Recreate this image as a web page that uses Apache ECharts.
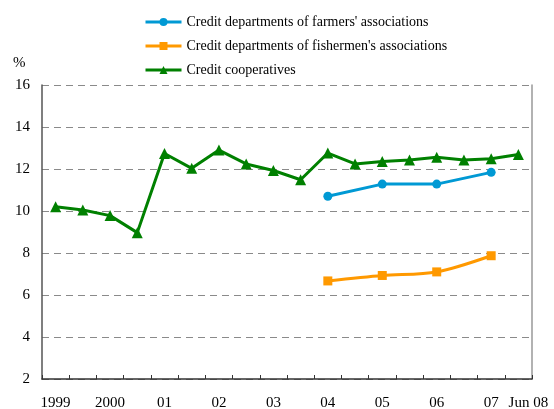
<!DOCTYPE html>
<html>
<head>
<meta charset="utf-8">
<script src="https://cdn.jsdelivr.net/npm/echarts@6/dist/echarts.min.js"></script>
<style>
  html, body { margin: 0; padding: 0; background: #fff; }
  #chart { width: 554px; height: 409px; }
</style>
</head>
<body>
<div id="chart"></div>
<script>
// Half-yearly observation dates (end of year and June)
const periods = ['Dec 1999', 'Jun 2000', 'Dec 2000', 'Jun 2001', 'Dec 2001', 'Jun 2002',
  'Dec 2002', 'Jun 2003', 'Dec 2003', 'Jun 2004', 'Dec 2004', 'Jun 2005', 'Dec 2005',
  'Jun 2006', 'Dec 2006', 'Jun 2007', 'Dec 2007', 'Jun 2008'];
// Labels shown under the axis (one per period, blank where none)
const tickLabels = ['1999', '', '2000', '', '01', '', '02', '', '03', '', '04', '', '05', '', '06', '', '07', 'Jun 08'];
const yTicks = [2, 4, 6, 8, 10, 12, 14, 16];

// Ratios, %
const farmers = [null, null, null, null, null, null, null, null, null, null,
  10.70, null, 11.28, null, 11.28, null, 11.84, null];
const fishermen = [null, null, null, null, null, null, null, null, null, null,
  6.67, null, 6.93, null, 7.10, null, 7.87, null];
const cooperatives = [10.20, 10.05, 9.78, 8.97, 12.74, 12.03, 12.90, 12.24, 11.93, 11.49,
  12.76, 12.24, 12.36, 12.43, 12.56, 12.43, 12.49, 12.69];

const serif = "'Liberation Serif', 'Times New Roman', serif";

const chart = echarts.init(document.getElementById('chart'), null, { renderer: 'canvas' });
chart.setOption({
  animation: false,
  backgroundColor: '#ffffff',
  textStyle: { fontFamily: serif, color: '#000' },
  grid: { left: 42, right: 22, top: 85, bottom: 30, containLabel: false, outerBoundsMode: 'none' },
  legend: {
    orient: 'vertical',
    left: 144,
    top: 15,
    padding: 0,
    itemWidth: 36,
    itemHeight: 10,
    itemGap: 10,
    lineStyle: { width: 3 },
    textStyle: { fontFamily: serif, fontSize: 14, color: '#000' },
    data: ["Credit departments of farmers' associations",
      "Credit departments of fishermen's associations",
      'Credit cooperatives']
  },
  graphic: [{
    type: 'text', left: 13, top: 56,
    style: { text: '%', font: '15px ' + serif, fill: '#000' }
  }],
  xAxis: {
    type: 'category',
    data: periods,
    boundaryGap: true,
    axisLine: { lineStyle: { color: '#333', width: 1.5 } },
    axisTick: { show: true, inside: true, length: 4, interval: 0, lineStyle: { color: '#333' } },
    axisLabel: {
      interval: 0,
      margin: 17,
      fontSize: 15,
      fontFamily: serif,
      color: '#000',
      formatter: (v, i) => i === tickLabels.length - 1 ? '{last|' + tickLabels[i] + '}' : tickLabels[i],
      rich: { last: { fontSize: 15, fontFamily: serif, color: '#000', padding: [0, 0, 0, 20] } }
    },
    splitLine: { show: false }
  },
  yAxis: [{
    type: 'value',
    min: yTicks[0],
    max: yTicks[yTicks.length - 1],
    interval: 2,
    axisLine: { show: true, lineStyle: { color: '#555', width: 1.5 } },
    axisTick: { show: false },
    axisLabel: { fontSize: 15, fontFamily: serif, color: '#000', margin: 12 },
    splitLine: { show: true, lineStyle: { color: '#8a8a8a', type: [7, 5], width: 1 } }
  }, {
    type: 'value',
    position: 'right',
    min: yTicks[0],
    max: yTicks[yTicks.length - 1],
    interval: 2,
    axisLine: { show: true, lineStyle: { color: '#999', width: 1.5 } },
    axisTick: { show: false },
    axisLabel: { show: false },
    splitLine: { show: false }
  }],
  series: [{
    name: "Credit departments of farmers' associations",
    type: 'line',
    yAxisIndex: 0,
    data: farmers,
    connectNulls: true,
    symbol: 'circle',
    symbolSize: 9,
    color: '#0099d4',
    lineStyle: { width: 3 },
    z: 3
  }, {
    name: "Credit departments of fishermen's associations",
    type: 'line',
    yAxisIndex: 0,
    data: fishermen,
    connectNulls: true,
    smooth: 0.3,
    symbol: 'rect',
    symbolSize: 9,
    color: '#ff9900',
    lineStyle: { width: 3 },
    z: 3
  }, {
    name: 'Credit cooperatives',
    type: 'line',
    yAxisIndex: 0,
    data: cooperatives,
    symbol: 'triangle',
    symbolSize: 11,
    color: '#008000',
    lineStyle: { width: 3 },
    z: 4
  }]
});
</script>
</body>
</html>
